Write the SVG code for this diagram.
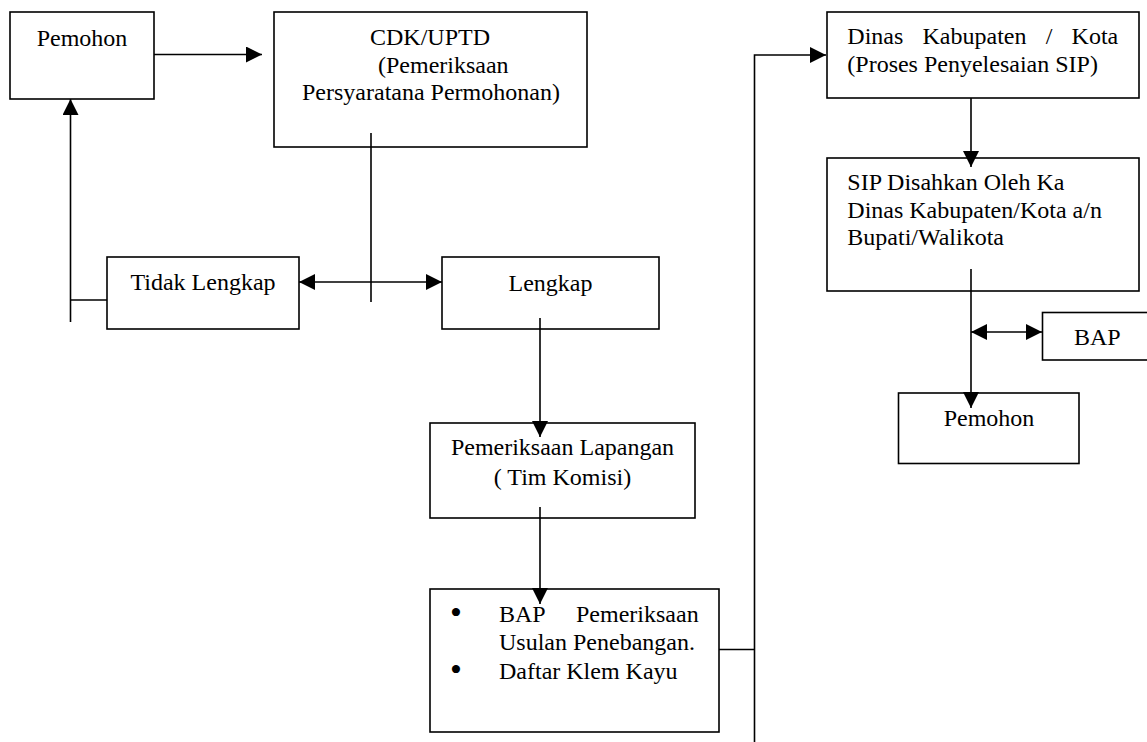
<svg xmlns="http://www.w3.org/2000/svg" width="1147" height="742" viewBox="0 0 1147 742">
<style>
.box{fill:#fff;stroke:#000;stroke-width:1.6}
.t{font-family:"Liberation Serif","Times New Roman",serif;font-size:24px;fill:#000}
.m{text-anchor:middle}
.b{font-size:34px}
.c{fill:none;stroke:#000;stroke-width:1.6}
</style>
<defs>
<marker id="ah" markerUnits="userSpaceOnUse" markerWidth="16" markerHeight="16" viewBox="0 0 15 15" refX="15" refY="7.5" orient="auto-start-reverse">
<path d="M0,0 L15,7.5 L0,15 z" fill="#000"/>
</marker>
</defs>
<rect width="1147" height="742" fill="#fff"/>
<g id="pemohon1"><rect class="box" x="10" y="12" width="144" height="87"/><text class="t m" x="82" y="46">Pemohon</text></g>
<g id="cdk"><rect class="box" x="274" y="12" width="313" height="135"/>
<text class="t" x="370" y="45">CDK/UPTD</text>
<text class="t" x="378" y="72.5">(Pemeriksaan</text>
<text class="t" x="302" y="99.5">Persyaratana Permohonan)</text></g>
<g id="tidak"><rect class="box" x="107" y="257" width="192" height="72"/><text class="t m" x="203" y="290">Tidak Lengkap</text></g>
<g id="lengkap"><rect class="box" x="442" y="257" width="217" height="72"/><text class="t m" x="550.5" y="291">Lengkap</text></g>
<g id="lapangan"><rect class="box" x="430" y="423" width="265" height="95"/>
<text class="t m" x="562.5" y="455">Pemeriksaan Lapangan</text>
<text class="t m" x="562.5" y="485">( Tim Komisi)</text></g>
<g id="bap1"><rect class="box" x="430" y="589" width="289" height="143"/>
<text class="t b" x="450" y="624">•</text>
<text class="t"><tspan x="499" y="622">BAP</tspan><tspan x="576" y="622">Pemeriksaan</tspan></text>
<text class="t" x="499" y="650">Usulan Penebangan.</text>
<text class="t b" x="450" y="681">•</text>
<text class="t" x="499" y="679">Daftar Klem Kayu</text></g>
<g id="dinas"><rect class="box" x="827" y="12" width="312" height="86"/>
<text class="t"><tspan x="847.3" y="43.5">Dinas</tspan><tspan x="922.5" y="43.5">Kabupaten</tspan><tspan x="1045.7" y="43.5">/</tspan><tspan x="1071.6" y="43.5">Kota</tspan></text>
<text class="t" x="847.3" y="71.5">(Proses Penyelesaian SIP)</text></g>
<g id="sip"><rect class="box" x="827" y="158" width="312" height="133"/>
<text class="t" x="847.3" y="190">SIP Disahkan Oleh Ka</text>
<text class="t" x="847.3" y="217.5">Dinas Kabupaten/Kota a/n</text>
<text class="t" x="847.3" y="245">Bupati/Walikota</text></g>
<g id="bap2"><rect class="box" x="1042.5" y="312.5" width="110" height="47.5"/><text class="t" x="1074" y="345">BAP</text></g>
<g id="pemohon2"><rect class="box" x="898.5" y="393" width="180.5" height="70.5"/><text class="t m" x="989" y="425.5">Pemohon</text></g>
<g id="connectors">
<path class="c" d="M154,54.5 H262" marker-end="url(#ah)"/>
<path class="c" d="M371,133 V302"/>
<path class="c" d="M299,282 H442" marker-start="url(#ah)" marker-end="url(#ah)"/>
<path class="c" d="M70.5,322 V99" marker-end="url(#ah)"/>
<path class="c" d="M70.5,300 H107"/>
<path class="c" d="M540,318 V437" marker-end="url(#ah)"/>
<path class="c" d="M540,507 V604" marker-end="url(#ah)"/>
<path class="c" d="M719,649.5 H754.5"/>
<path class="c" d="M754.5,742 V55 H826" marker-end="url(#ah)"/>
<path class="c" d="M971,98 V167" marker-end="url(#ah)"/>
<path class="c" d="M971,269 V408" marker-end="url(#ah)"/>
<path class="c" d="M971,332 H1042" marker-start="url(#ah)" marker-end="url(#ah)"/>
</g>
</svg>
